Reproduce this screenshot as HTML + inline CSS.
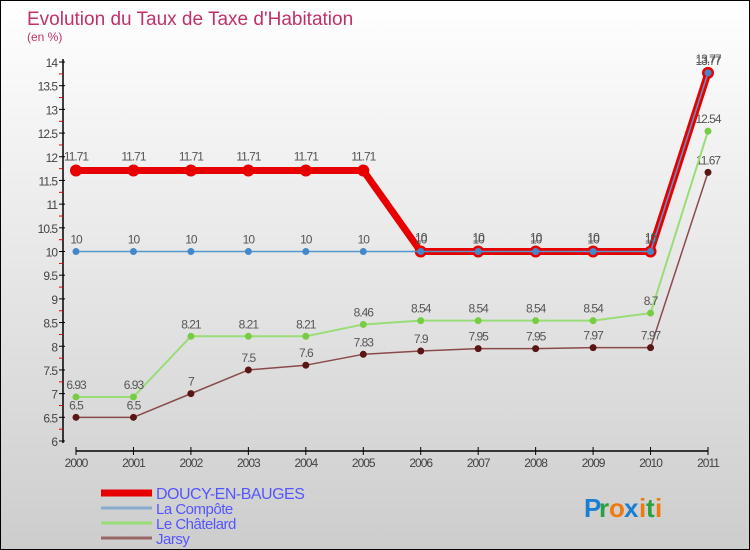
<!DOCTYPE html>
<html><head><meta charset="utf-8"><style>
body{margin:0}
#c{width:750px;height:550px;position:relative;box-sizing:border-box;border:1px solid #000;background:linear-gradient(#fff,#cdcdcd);font-family:"Liberation Sans",sans-serif;overflow:hidden}
</style></head><body>
<div id="c">
<svg id="s" width="750" height="550" style="position:absolute;left:0;top:0"></svg>
</div>
<script>
const years=["2000","2001","2002","2003","2004","2005","2006","2007","2008","2009","2010","2011"];
const doucy=[11.71,11.71,11.71,11.71,11.71,11.71,10,10,10,10,10,13.77];
const compote=[10,10,10,10,10,10,10,10,10,10,10,13.77];
const chatelard=[6.93,6.93,8.21,8.21,8.21,8.46,8.54,8.54,8.54,8.54,8.7,12.54];
const jarsy=[6.5,6.5,7,7.5,7.6,7.83,7.9,7.95,7.95,7.97,7.97,11.67];
const yTicks=["6","6.5","7","7.5","8","8.5","9","9.5","10","10.5","11","11.5","12","12.5","13","13.5","14"];
const ns="http://www.w3.org/2000/svg",s=document.getElementById('s');
const X=i=>75+i*(707-75)/11, Y=v=>440-(v-6)*(440-61)/8;
function el(t,a,p){const e=document.createElementNS(ns,t);for(const k in a)e.setAttribute(k,a[k]);(p||s).appendChild(e);return e;}
function tx(x,y,str,a){const e=el('text',Object.assign({x:x,y:y},a));e.textContent=str;return e;}
let t=tx(26,24,"Evolution du Taux de Taxe d'Habitation",{fill:'#c0306a','font-size':19});

t=tx(26,40,"(en %)",{fill:'#c0306a','font-size':12});

let ax=el('line',{x1:62,y1:58,x2:62,y2:442,stroke:'#000','stroke-width':1.5});

ax=el('line',{x1:75,y1:450,x2:707,y2:450,stroke:'#000','stroke-width':1.5});

yTicks.forEach(v=>{const y=Y(+v);el('line',{x1:58,y1:y,x2:64,y2:y,stroke:'#000'});
el('line',{x1:58,y1:y+11.9,x2:62,y2:y+11.9,stroke:v==="6"?'none':'#e00'});
const e=tx(56,y+5,v,{fill:'#444','font-size':12,'text-anchor':'end','letter-spacing':'-1'});
});
years.forEach((yr,i)=>{el('line',{x1:X(i),y1:446,x2:X(i),y2:454,stroke:'#000'});
const e=tx(X(i),466,yr,{fill:'#444','font-size':12,'text-anchor':'middle','letter-spacing':'-1'});
});
function series(d,name,col,w,r,dot,lab,dy){
 const g=el('g',{});
 el('polyline',{points:d.map((v,i)=>X(i)+','+Y(v)).join(' '),fill:'none',stroke:col,'stroke-width':w,'stroke-linejoin':'round'},g);
 d.forEach((v,i)=>{const c=el('circle',{cx:X(i),cy:Y(v),r:r,fill:dot},g);
 
 tx(X(i),Y(v)+dy,String(v),{fill:'#555','font-size':12,'text-anchor':'middle','letter-spacing':'-1'},g);});
}
series(jarsy,'jarsy-series','#8a4a4a',1.5,3.5,'#5a1515','',-8);
series(chatelard,'chatelard-series','#99dd77',2,3.5,'#77cc44','',-8);
series(doucy,'doucy-series','#e80000',7,6,'#e80000','',-10);
series(compote,'compote-series','#5599cc',1.5,3.5,'#4488cc','',-8);
const leg=[["DOUCY-EN-BAUGES",'#e80000',7],["La Compôte",'#88aacc',3],["Le Châtelard",'#99dd77',3],["Jarsy",'#996666',3]];
leg.forEach((l,i)=>{const y=492+i*15;const g=el('g',{});
el('line',{x1:100,y1:y,x2:151,y2:y,stroke:l[1],'stroke-width':l[2]},g);
tx(155,y+6,l[0],{fill:'#5555ff','font-size':i?15:16,'letter-spacing':'-0.5'},g);});
const lg=el('g',{});
[["P",'#1a7fd0'],["r",'#2aa040'],["o",'#f07a10'],["x",'#1a7fd0'],["i",'#f07a10'],["t",'#2aa040'],["i",'#f07a10']].forEach((c,i)=>{
tx(583+[0,15,25,40,55,62,71][i],516,c[0],{fill:c[1],'font-size':26,'font-weight':'bold'},lg);});
</script>
</body></html>
